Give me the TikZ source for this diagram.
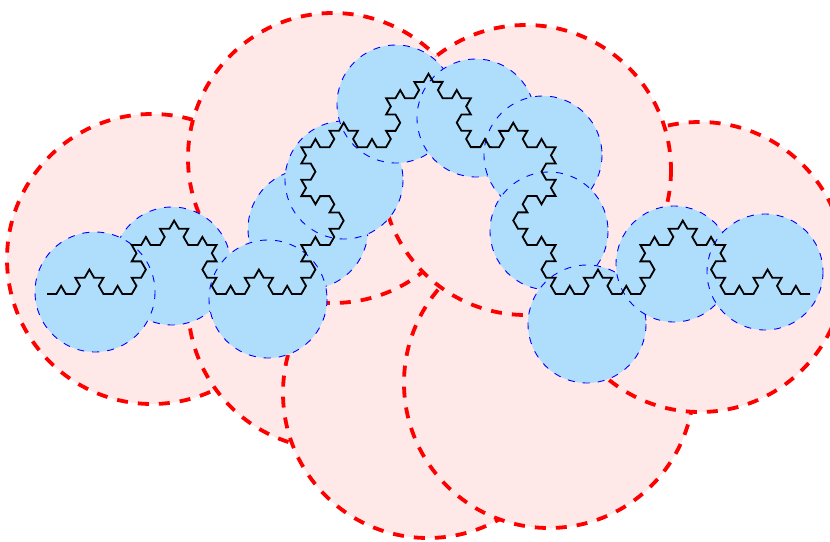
\documentclass[tikz,border=0pt]{standalone}
\usetikzlibrary{decorations.fractals}
\definecolor{pinkfill}{RGB}{255,232,232}
\definecolor{bluefill}{RGB}{175,222,252}
\begin{document}
\begin{tikzpicture}[x=1pt,y=-1pt,
  bigdisc/.style={fill=pinkfill, draw=red, line width=3.8pt, dash pattern=on 11pt off 10pt},
  smalldisc/.style={fill=bluefill, draw=blue, line width=0.9pt, dash pattern=on 7pt off 8pt},
  koch/.style={draw=black, line width=1.8pt, line join=miter, decoration=Koch snowflake}]
\useasboundingbox (0,0) rectangle (830,541);
\fill[white] (0,0) rectangle (830,541);
% large covering discs
\path[bigdisc] (152,259) circle[radius=145];
\path[bigdisc] (333,304) circle[radius=145];
\path[bigdisc] (428,393) circle[radius=145];
\path[bigdisc] (549,383) circle[radius=145];
\path[bigdisc] (700,267) circle[radius=145];
\path[bigdisc] (333,158) circle[radius=145];
\path[bigdisc] (526,170) circle[radius=145];
% small covering discs
\path[smalldisc] (172,266) circle[radius=59];
\path[smalldisc] (95,292) circle[radius=60];
\path[smalldisc] (308,229) circle[radius=60];
\path[smalldisc] (268,299) circle[radius=59];
\path[smalldisc] (344,180) circle[radius=59];
\path[smalldisc] (396,104) circle[radius=59];
\path[smalldisc] (476,118) circle[radius=59];
\path[smalldisc] (543,155) circle[radius=59];
\path[smalldisc] (549,231) circle[radius=59];
\path[smalldisc] (587,324) circle[radius=59];
\path[smalldisc] (674,264) circle[radius=58];
\path[smalldisc] (765,272) circle[radius=58];
% Koch curve
\coordinate (kA) at (47,294);
\coordinate (kB) at (810,294);
\draw[koch] decorate{decorate{decorate{decorate{ (kA) -- (kB) }}}};
\end{tikzpicture}
\end{document}
